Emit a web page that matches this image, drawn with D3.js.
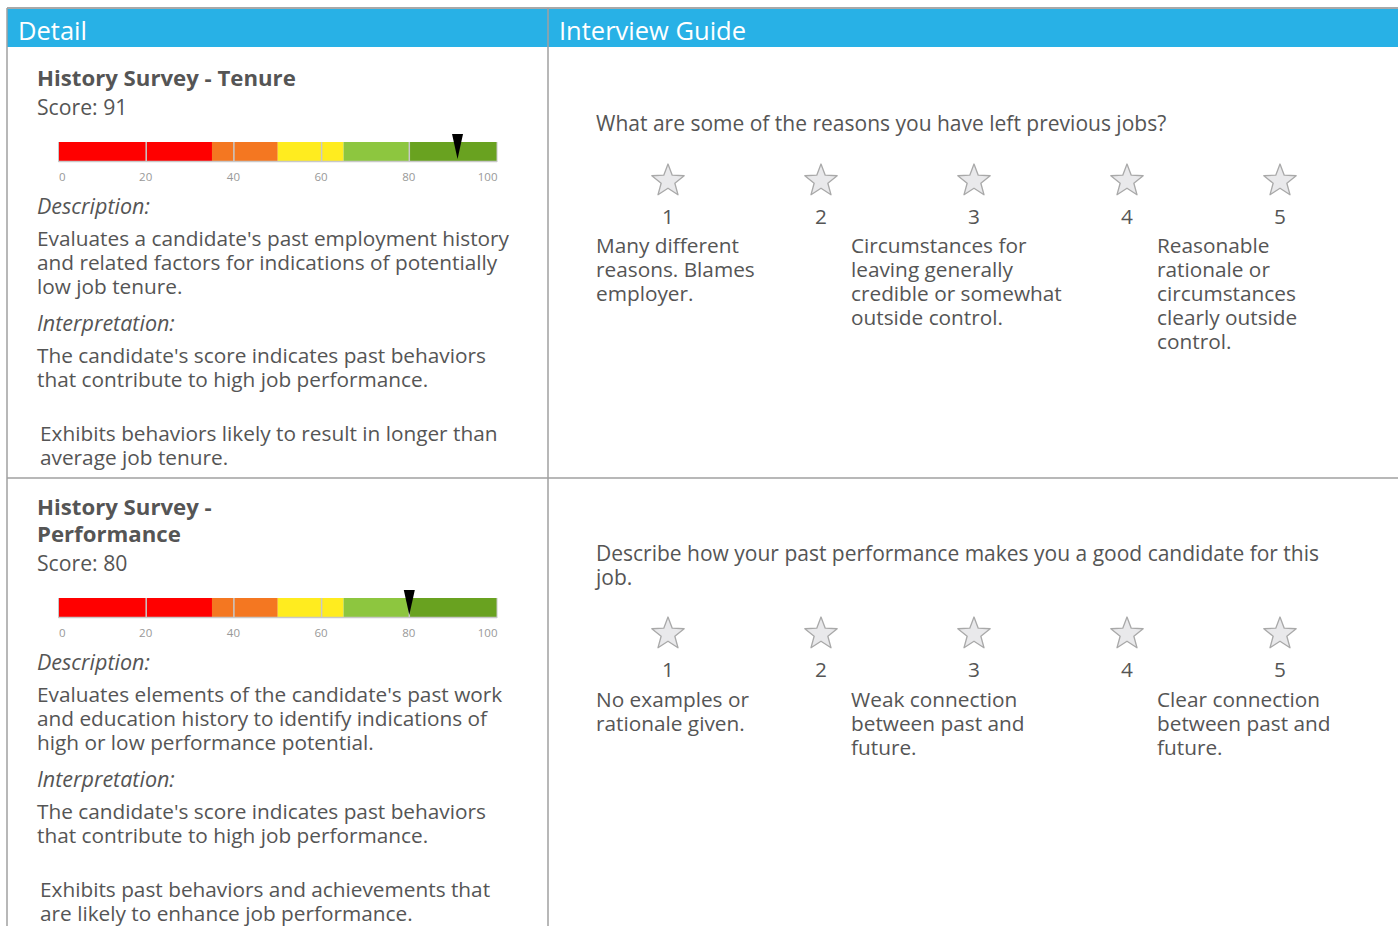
<!DOCTYPE html>
<html><head><meta charset="utf-8">
<script src="https://cdn.jsdelivr.net/npm/d3@7"></script>
<style>
html,body{margin:0;padding:0;background:#fff;}
svg text{font-family:"Open Sans","Noto Sans",sans-serif;}
</style></head>
<body><svg id="c" width="1398" height="926"></svg>
<script>
// ---- data ----
const headers = ["Detail", "Interview Guide"];
const sectionTitles = [["History Survey - Tenure"], ["History Survey -", "Performance"]];
const scores = [91, 80];
const bandBreaks = [0, 35, 50, 65, 80, 100];
const bandColors = ["#FF0000", "#F47721", "#FFEC1F", "#8DC63F", "#69A220"];
const gridTicks = [20, 40, 60, 80];
const axisTicks = [0, 20, 40, 60, 80, 100];
const descriptions = [
  ["Evaluates a candidate's past employment history", "and related factors for indications of potentially", "low job tenure."],
  ["Evaluates elements of the candidate's past work", "and education history to identify indications of", "high or low performance potential."]
];
const interpretations = [
  ["The candidate's score indicates past behaviors", "that contribute to high job performance."],
  ["The candidate's score indicates past behaviors", "that contribute to high job performance."]
];
const summaries = [
  ["Exhibits behaviors likely to result in longer than", "average job tenure."],
  ["Exhibits past behaviors and achievements that", "are likely to enhance job performance."]
];
const questions = [
  ["What are some of the reasons you have left previous jobs?"],
  ["Describe how your past performance makes you a good candidate for this", "job."]
];
const ratings = [1, 2, 3, 4, 5];
const anchors = [
  { 1: ["Many different", "reasons. Blames", "employer."], 3: ["Circumstances for", "leaving generally", "credible or somewhat", "outside control."], 5: ["Reasonable", "rationale or", "circumstances", "clearly outside", "control."] },
  { 1: ["No examples or", "rationale given."], 3: ["Weak connection", "between past and", "future."], 5: ["Clear connection", "between past and", "future."] }
];

// ---- layout ----
const svg = d3.select("#c");
const W = 1398, H = 926;
const TXT = "#555";
const divX = 548, leftX = 7, sepY = 478;
const FS = 20.8;

// header
svg.append("rect").attr("x", leftX).attr("y", 9).attr("width", W - leftX).attr("height", 38).attr("fill", "#28B1E6");
svg.append("line").attr("x1", leftX).attr("x2", W).attr("y1", 8).attr("y2", 8).attr("stroke", "#A8A8A8").attr("stroke-width", 2);
svg.selectAll("text.hdr").data(headers).join("text").attr("class", "hdr")
  .attr("x", (d, i) => i === 0 ? 18 : 559).attr("y", 40)
  .attr("fill", "#fff").attr("font-size", 25.5).text(d => d);

// grid lines
const gl = svg.append("g").attr("stroke", "#A0A0A0").attr("stroke-width", 1.5);
gl.append("line").attr("x1", leftX).attr("x2", leftX).attr("y1", 8).attr("y2", H);
gl.append("line").attr("x1", divX).attr("x2", divX).attr("y1", 8).attr("y2", H);
gl.append("line").attr("x1", leftX).attr("x2", W).attr("y1", sepY).attr("y2", sepY);

const x = d3.scaleLinear().domain([0, 100]).range([58.5, 497]);
const LH = 24;

function lines(g, arr, x0, y0, opts = {}) {
  arr.forEach((s, i) => {
    const t = g.append("text").attr("x", x0).attr("y", y0 + i * (opts.lh || LH))
      .attr("fill", opts.fill || TXT).attr("font-size", opts.size || FS).text(s);
    if (opts.italic) t.attr("font-style", "italic");
    if (opts.bold) t.attr("font-weight", "bold");
  });
}

// left sections
const leftCfg = [
  { title: 86, score: 115, bar: 142, axis: 173, desc: 214, descBody: 246, interp: 331, interpBody: 363, sum: 441 },
  { title: 515, score: 571, bar: 598, axis: 629, desc: 670, descBody: 702, interp: 787, interpBody: 819, sum: 897 }
];
const barH = 19;
leftCfg.forEach((c, i) => {
  const g = svg.append("g");
  lines(g, sectionTitles[i], 37, c.title, { bold: true, size: 22.2, lh: 27 });
  lines(g, ["Score: " + scores[i]], 37, c.score, { size: 21.2 });
  // bands
  const bands = d3.range(bandColors.length).map(k => ({ a: bandBreaks[k], b: bandBreaks[k + 1], c: bandColors[k] }));
  g.selectAll("rect.band").data(bands).join("rect").attr("class", "band")
    .attr("x", d => x(d.a)).attr("width", d => x(d.b) - x(d.a))
    .attr("y", c.bar).attr("height", barH).attr("fill", d => d.c);
  g.selectAll("line.grid").data(gridTicks).join("line").attr("class", "grid")
    .attr("x1", d => x(d)).attr("x2", d => x(d)).attr("y1", c.bar).attr("y2", c.bar + barH)
    .attr("stroke", "#C8C8C8").attr("stroke-width", 1.5);
  g.append("line").attr("x1", x(0)).attr("x2", x(100)).attr("y1", c.bar + barH + 0.5).attr("y2", c.bar + barH + 0.5)
    .attr("stroke", "#C8C8C8").attr("stroke-width", 1.5);
  [0, 100].forEach(v => g.append("line").attr("x1", x(v)).attr("x2", x(v)).attr("y1", c.bar).attr("y2", c.bar + barH + 1)
    .attr("stroke", "#C8C8C8").attr("stroke-width", 1));
  // axis
  const ax = g.append("g").attr("transform", `translate(0,${c.axis})`)
    .call(d3.axisBottom(x).tickValues(axisTicks).tickSize(0).tickPadding(0));
  ax.select(".domain").remove();
  ax.selectAll("text").attr("fill", "#999").attr("font-size", 11.5)
    .attr("font-family", "'Open Sans', sans-serif")
    .attr("text-anchor", d => d === 0 ? "start" : (d === 100 ? "end" : "middle"))
    .attr("dx", d => d === 0 ? 0 : (d === 100 ? 0 : -1));
  // marker
  const mx = x(scores[i]);
  g.append("path").attr("d", `M${mx - 5.5},${c.bar - 8} L${mx + 5.5},${c.bar - 8} L${mx},${c.bar + 17} Z`).attr("fill", "#000");
  lines(g, ["Description:"], 37, c.desc, { italic: true, size: 21.5 });
  lines(g, descriptions[i], 37, c.descBody);
  lines(g, ["Interpretation:"], 37, c.interp, { italic: true, size: 21.5 });
  lines(g, interpretations[i], 37, c.interpBody);
  lines(g, summaries[i], 40, c.sum);
});

// right sections
const rightCfg = [
  { q: 131, star: 180, num: 224, anc: 253 },
  { q: 561, star: 633, num: 677, anc: 707 }
];
const starX = d3.scalePoint().domain(ratings).range([668, 1280]);
const ancX = { 1: 596, 3: 851, 5: 1157 };
function starPath(r1, r2) {
  const pts = d3.range(10).map(k => {
    const a = -Math.PI / 2 + k * Math.PI / 5;
    const r = k % 2 === 0 ? r1 : r2;
    return [r * Math.cos(a), r * Math.sin(a)];
  });
  return "M" + pts.map(p => p.join(",")).join("L") + "Z";
}
rightCfg.forEach((c, i) => {
  const g = svg.append("g");
  lines(g, questions[i], 596, c.q, { size: 21 });
  g.selectAll("path.star").data(ratings).join("path").attr("class", "star")
    .attr("transform", d => `translate(${starX(d)},${c.star + 1})`)
    .attr("d", starPath(17, 7.2)).attr("fill", "#E9E9EB").attr("stroke", "#A9A9A9").attr("stroke-width", 1.3)
    .attr("stroke-linejoin", "round");
  g.selectAll("text.num").data(ratings).join("text").attr("class", "num")
    .attr("x", d => starX(d)).attr("y", c.num).attr("text-anchor", "middle")
    .attr("fill", TXT).attr("font-size", FS).text(d => d);
  Object.keys(anchors[i]).forEach(k => lines(g, anchors[i][k], ancX[k], c.anc));
});
</script></body></html>
